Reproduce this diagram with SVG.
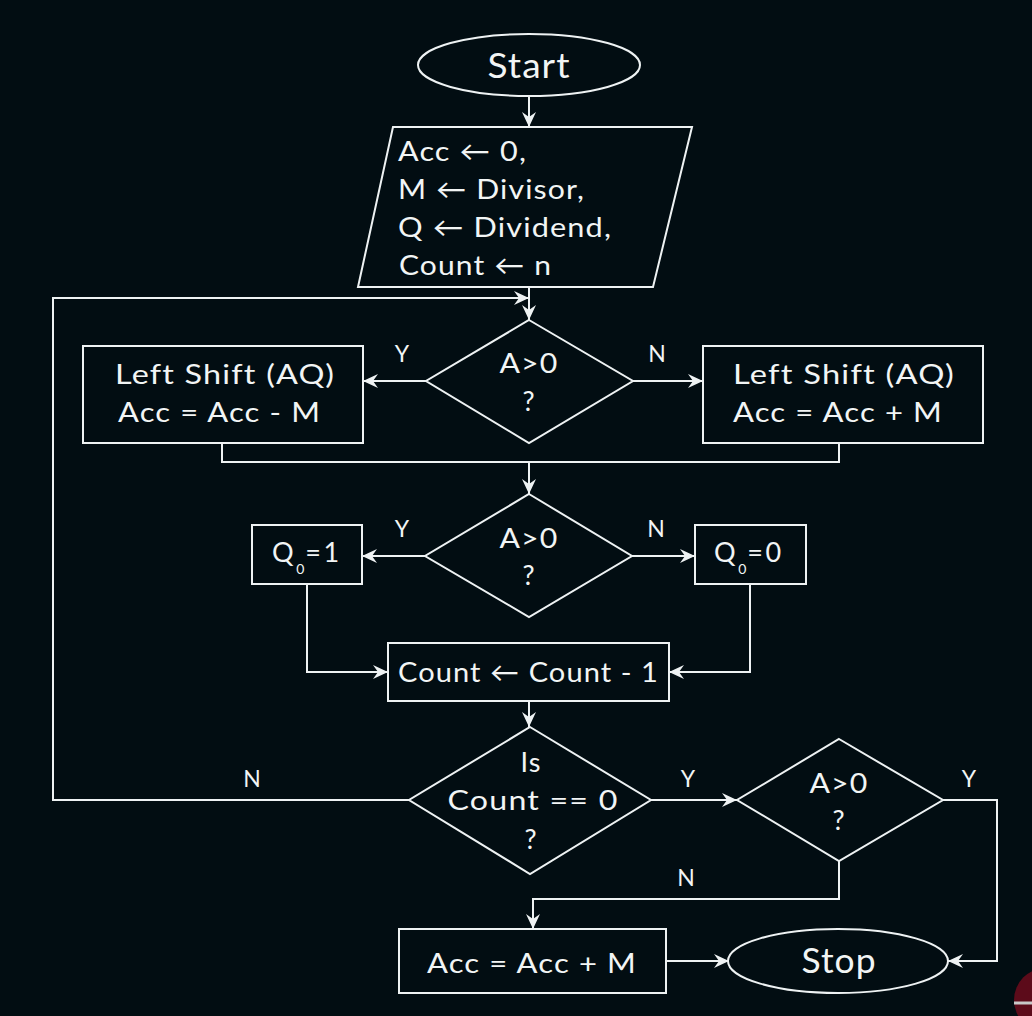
<svg xmlns="http://www.w3.org/2000/svg" width="1032" height="1016" viewBox="0 0 1032 1016">
<style>
.shape{fill:none;stroke:#eef2f3;stroke-width:2}
.conn{fill:none;stroke:#eef2f3;stroke-width:2}
text{font-family:Lato,"Liberation Sans",sans-serif;fill:#f2f5f5}
.t{font-size:27px;text-anchor:middle;letter-spacing:1px}
.tl{font-size:27px;text-anchor:start;letter-spacing:1px}
.big{font-size:35px;text-anchor:middle;letter-spacing:1px}
.lbl{font-size:23px;text-anchor:middle}
.q{font-size:27px;text-anchor:start;letter-spacing:2.5px}
.sub{font-size:14px;letter-spacing:1px}
</style>
<defs>
<marker id="arr" markerUnits="userSpaceOnUse" markerWidth="16" markerHeight="14" refX="15" refY="7" orient="auto">
<path d="M0,0 L15,7 L0,14 L5,7 Z" fill="#eef2f3"/>
</marker>
</defs>
<rect x="0" y="0" width="1032" height="1016" fill="#020d12"/>

<g id="connectors">
<path class="conn" d="M529,97 V127" marker-end="url(#arr)"/>
<path class="conn" d="M529,287 V320" marker-end="url(#arr)"/>
<path class="conn" d="M426,381 H363" marker-end="url(#arr)"/>
<path class="conn" d="M633,381 H703" marker-end="url(#arr)"/>
<path class="conn" d="M222,443 V462 H839 V443"/>
<path class="conn" d="M529,462 V494" marker-end="url(#arr)"/>
<path class="conn" d="M425,556 H362" marker-end="url(#arr)"/>
<path class="conn" d="M632,556 H695" marker-end="url(#arr)"/>
<path class="conn" d="M307,584 V672 H388" marker-end="url(#arr)"/>
<path class="conn" d="M750,584 V672 H669" marker-end="url(#arr)"/>
<path class="conn" d="M529,701 V727" marker-end="url(#arr)"/>
<path class="conn" d="M409,800 H53 V298 H529" marker-end="url(#arr)"/>
<path class="conn" d="M651,800 H737" marker-end="url(#arr)"/>
<path class="conn" d="M943,800 H997 V961 H948" marker-end="url(#arr)"/>
<path class="conn" d="M839,861 V899 H533 V929" marker-end="url(#arr)"/>
<path class="conn" d="M666,961 H729" marker-end="url(#arr)"/>
<text class="lbl" x="402" y="362">Y</text>
<text class="lbl" x="657" y="362">N</text>
<text class="lbl" x="402" y="537">Y</text>
<text class="lbl" x="656" y="537">N</text>
<text class="lbl" x="252" y="787">N</text>
<text class="lbl" x="688" y="787">Y</text>
<text class="lbl" x="969" y="787">Y</text>
<text class="lbl" x="686" y="886">N</text>
</g>

<g id="start">
<ellipse class="shape" cx="529" cy="65" rx="111" ry="31"/>
<text class="big" x="529" y="78" textLength="83" lengthAdjust="spacingAndGlyphs">Start</text>
</g>

<g id="init">
<polygon class="shape" points="393,127 692,127 653,287 358,287"/>
<text class="tl" x="398" y="161" textLength="129" lengthAdjust="spacingAndGlyphs">Acc ← 0,</text>
<text class="tl" x="398" y="199" textLength="187" lengthAdjust="spacingAndGlyphs">M ← Divisor,</text>
<text class="tl" x="398" y="237" textLength="214" lengthAdjust="spacingAndGlyphs">Q ← Dividend,</text>
<text class="tl" x="399" y="275" textLength="153" lengthAdjust="spacingAndGlyphs">Count ← n</text>
</g>

<g id="decision1">
<polygon class="shape" points="529,320 633,381 529,443 426,381"/>
<text class="t" x="529" y="373" textLength="59" lengthAdjust="spacingAndGlyphs">A&gt;0</text>
<text class="t" x="529" y="411">?</text>
</g>

<g id="shift-sub">
<rect class="shape" x="83" y="346" width="280" height="97"/>
<text class="tl" x="115" y="384" textLength="220" lengthAdjust="spacingAndGlyphs">Left Shift (AQ)</text>
<text class="tl" x="118" y="422" textLength="203" lengthAdjust="spacingAndGlyphs">Acc = Acc - M</text>
</g>

<g id="shift-add">
<rect class="shape" x="703" y="346" width="280" height="97"/>
<text class="tl" x="733" y="384" textLength="222" lengthAdjust="spacingAndGlyphs">Left Shift (AQ)</text>
<text class="tl" x="733" y="422" textLength="210" lengthAdjust="spacingAndGlyphs">Acc = Acc + M</text>
</g>

<g id="decision2">
<polygon class="shape" points="529,494 632,556 529,617 425,556"/>
<text class="t" x="529" y="548" textLength="59" lengthAdjust="spacingAndGlyphs">A&gt;0</text>
<text class="t" x="529" y="585">?</text>
</g>

<g id="q0-one">
<rect class="shape" x="252" y="525" width="110" height="59"/>
<text class="q" x="272" y="562">Q<tspan class="sub" dy="12">0</tspan><tspan dy="-12">=1</tspan></text>
</g>

<g id="q0-zero">
<rect class="shape" x="695" y="525" width="111" height="59"/>
<text class="q" x="714" y="562">Q<tspan class="sub" dy="12">0</tspan><tspan dy="-12">=0</tspan></text>
</g>

<g id="decrement">
<rect class="shape" x="388" y="643" width="281" height="58"/>
<text class="tl" x="398" y="682" textLength="261" lengthAdjust="spacingAndGlyphs">Count ← Count - 1</text>
</g>

<g id="decision3">
<polygon class="shape" points="530,727 651,800 530,874 409,800"/>
<text class="t" x="531" y="772">Is</text>
<text class="t" x="533" y="810" textLength="171" lengthAdjust="spacingAndGlyphs">Count == 0</text>
<text class="t" x="531" y="849">?</text>
</g>

<g id="decision4">
<polygon class="shape" points="839,739 943,800 839,861 737,800"/>
<text class="t" x="839" y="793" textLength="59" lengthAdjust="spacingAndGlyphs">A&gt;0</text>
<text class="t" x="839" y="830">?</text>
</g>

<g id="restore">
<rect class="shape" x="399" y="929" width="267" height="64"/>
<text class="t" x="532" y="973" textLength="210" lengthAdjust="spacingAndGlyphs">Acc = Acc + M</text>
</g>

<g id="stop">
<ellipse class="shape" cx="838" cy="961" rx="110" ry="32"/>
<text class="big" x="839" y="973" textLength="75" lengthAdjust="spacingAndGlyphs">Stop</text>
</g>

<g id="corner-badge">
<circle cx="1046" cy="1000" r="32" fill="#5c0b1a"/>
<line x1="1014" y1="1003" x2="1032" y2="1003" stroke="#c8c8c8" stroke-width="3"/>
</g>
</svg>
